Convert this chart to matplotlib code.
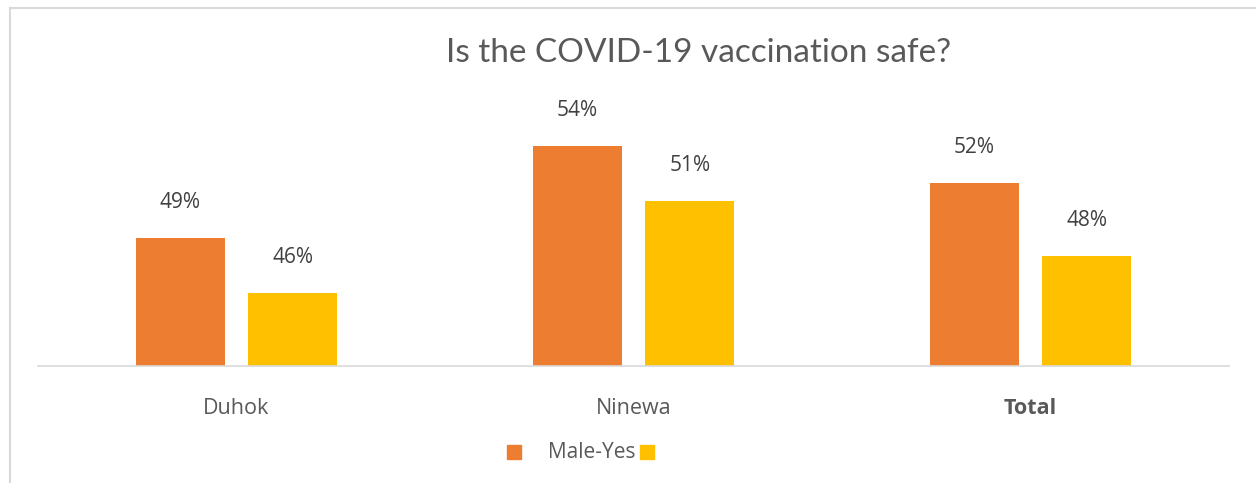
import numpy as np
import matplotlib.pyplot as plt
from matplotlib.lines import Line2D
from matplotlib.patches import Rectangle

categories = ['Duhok', 'Ninewa', 'Total']
male_yes = [49, 54, 52]
female_yes = [46, 51, 48]
series_names = ['Male-Yes', '']
colors = ['#ED7D31', '#FFC000']
title = 'Is the COVID-19 vaccination safe?'

txt = '#595959'
W, H = 1256, 483
fig = plt.figure(figsize=(W / 100, H / 100), dpi=100)

# axes area in pixel terms of the reference
left, right, base, top = 38, 1229, 366, 100
ax = fig.add_axes([left / W, (H - base) / H, (right - left) / W, (base - top) / H])

x = np.arange(len(categories))
w = 0.224
off = 0.142
b1 = ax.bar(x - off, male_yes, w, color=colors[0])
b2 = ax.bar(x + off, female_yes, w, color=colors[1])

ymin = 42.0
px_per = 18.33
ax.set_ylim(ymin, ymin + (base - top) / px_per)
ax.set_xlim(-0.5, 2.5)

for bars, vals in [(b1, male_yes), (b2, female_yes)]:
    for r, v in zip(bars, vals):
        ax.annotate(f'{v}%', (r.get_x() + r.get_width() / 2, v), xytext=(0, 21.5),
                    textcoords='offset points', ha='center', va='baseline',
                    fontsize=15, color='#404040', family='Open Sans')

ax.set_yticks([])
ax.set_xticks(x)
ax.set_xticklabels(categories, fontsize=15.5, color=txt, family='Open Sans')
ax.get_xticklabels()[2].set_fontweight('bold')
ax.tick_params(axis='x', length=0, pad=23)
for s in ['top', 'right', 'left']:
    ax.spines[s].set_visible(False)
ax.spines['bottom'].set_color('#d9d9d9')
ax.spines['bottom'].set_linewidth(1.2)

fig.text(699 / W, 1 - 53 / H, title, ha='center', va='center', fontsize=24,
         color=txt, family='Lato')

# legend drawn by hand (second entry has no text in the reference)
sq = 14
fig.patches.append(Rectangle((507 / W, 1 - 459 / H), sq / W, sq / H, color=colors[0],
                             transform=fig.transFigure, figure=fig))
fig.text(548 / W, 1 - 453 / H, series_names[0], ha='left', va='center', fontsize=15,
         color=txt, family='Open Sans')
fig.patches.append(Rectangle((640 / W, 1 - 459 / H), sq / W, sq / H, color=colors[1],
                             transform=fig.transFigure, figure=fig))

# chart frame (top and left edges visible)
fig.add_artist(Line2D([10 / W, 1], [1 - 8 / H, 1 - 8 / H], color='#d9d9d9', lw=1.5))
fig.add_artist(Line2D([10 / W, 10 / W], [0, 1 - 8 / H], color='#d9d9d9', lw=1.5))

fig.savefig('out.png', dpi=100, facecolor='white')
